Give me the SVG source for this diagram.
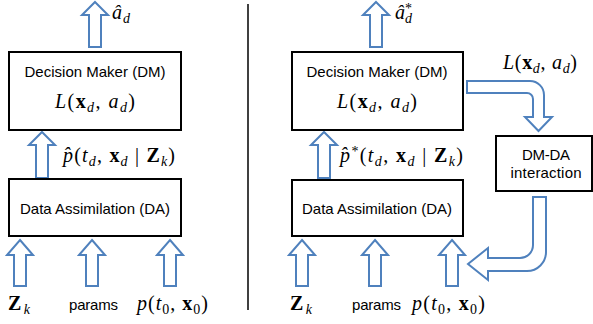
<svg xmlns="http://www.w3.org/2000/svg" width="593" height="324" viewBox="0 0 593 324">
<style>
.box{fill:#fff;stroke:#000;stroke-width:2}
.arr{fill:#fff;stroke:#4F81BD;stroke-width:2;stroke-linejoin:miter}
.t{font-family:"Liberation Sans",Arial,sans-serif;font-size:15px;fill:#000}
.m{font-family:"Liberation Serif","Times New Roman",serif;font-size:20px;fill:#000}
.i{font-style:italic}
.b{font-weight:bold}
.s{font-size:14px}
</style>
<rect width="593" height="324" fill="#fff"/>
<g id="divider"><line x1="248" y1="4" x2="248" y2="310" stroke="#404040" stroke-width="2"/></g>

<g id="connectors">
<path class="arr" d="M95,2 L108,15 L101,15 L101,47 L89,47 L89,15 L82,15 Z"/>
<path class="arr" d="M42,132 L55,145 L48,145 L48,178 L36,178 L36,145 L29,145 Z"/>
<path class="arr" d="M20,240 L33,255 L26,255 L26,286 L14,286 L14,255 L7,255 Z"/>
<path class="arr" d="M92,240 L105,255 L98,255 L98,286 L86,286 L86,255 L79,255 Z"/>
<path class="arr" d="M170,240 L183,255 L176,255 L176,286 L164,286 L164,255 L157,255 Z"/>
<path class="arr" d="M376,2 L389,15 L382,15 L382,47 L370,47 L370,15 L363,15 Z"/>
<path class="arr" d="M324,132 L337,145 L330,145 L330,178 L318,178 L318,145 L311,145 Z"/>
<path class="arr" d="M302,240 L315,255 L308,255 L308,286 L296,286 L296,255 L289,255 Z"/>
<path class="arr" d="M375,240 L388,255 L381,255 L381,286 L369,286 L369,255 L362,255 Z"/>
<path class="arr" d="M452,240 L465,255 L458,255 L458,286 L446,286 L446,255 L439,255 Z"/>
<path id="dm-to-int" class="arr" d="M467,81 L530,81 A14,14 0 0 1 544,95 L544,117 L552,117 L538.5,131 L525,117 L533,117 L533,99 A6,6 0 0 0 527,93 L467,93 Z"/>
<path id="int-to-da" class="arr" d="M533,197 L546,197 L546,252 A19,19 0 0 1 527,271 L488,271 L488,280 L468,264 L488,248 L488,258 L520,258 A13,13 0 0 0 533,245 Z"/>
</g>

<g id="left-dm">
<rect class="box" x="9" y="52" width="172" height="78"/>
<text class="t" x="95" y="77" text-anchor="middle" textLength="141">Decision Maker (DM)</text>
<text class="m" x="95" y="108" text-anchor="middle" textLength="80"><tspan class="i">L</tspan>(<tspan class="b">x</tspan><tspan class="s i" dy="4">d</tspan><tspan dy="-4">, </tspan><tspan class="i">a</tspan><tspan class="s i" dy="4">d</tspan><tspan dy="-4">)</tspan></text>
</g>
<g id="left-da">
<rect class="box" x="9" y="179" width="172" height="57"/>
<text class="t" x="95" y="214" text-anchor="middle" textLength="150">Data Assimilation (DA)</text>
</g>

<g id="right-dm">
<rect class="box" x="292" y="52" width="171" height="78"/>
<text class="t" x="377" y="77" text-anchor="middle" textLength="141">Decision Maker (DM)</text>
<text class="m" x="377" y="108" text-anchor="middle" textLength="80"><tspan class="i">L</tspan>(<tspan class="b">x</tspan><tspan class="s i" dy="4">d</tspan><tspan dy="-4">, </tspan><tspan class="i">a</tspan><tspan class="s i" dy="4">d</tspan><tspan dy="-4">)</tspan></text>
</g>
<g id="right-da">
<rect class="box" x="292" y="180" width="171" height="56"/>
<text class="t" x="377" y="214" text-anchor="middle" textLength="150">Data Assimilation (DA)</text>
</g>
<g id="dm-da-interaction">
<rect class="box" x="496" y="136" width="96" height="55"/>
<text class="t" x="546" y="160" text-anchor="middle" textLength="48">DM-DA</text>
<text class="t" x="546" y="178" text-anchor="middle" textLength="71">interaction</text>
</g>

<g id="labels">
<text class="m" x="112" y="19" textLength="18"><tspan class="i">â</tspan><tspan class="s i" dy="4">d</tspan></text>
<text class="m" x="63" y="162" textLength="112"><tspan class="i">p̂</tspan>(<tspan class="i">t</tspan><tspan class="s i" dy="4">d</tspan><tspan dy="-4">, </tspan><tspan class="b">x</tspan><tspan class="s i" dy="4">d</tspan><tspan dy="-4"> | </tspan><tspan class="b">Z</tspan><tspan class="s i" dy="4">k</tspan><tspan dy="-4">)</tspan></text>
<text class="m" x="8" y="310" textLength="22"><tspan class="b">Z</tspan><tspan class="s i" dy="4">k</tspan></text>
<text class="t" x="69" y="310" textLength="49">params</text>
<text class="m" x="137" y="310" textLength="71"><tspan class="i">p</tspan>(<tspan class="i">t</tspan><tspan class="s" dy="4">0</tspan><tspan dy="-4">, </tspan><tspan class="b">x</tspan><tspan class="s" dy="4">0</tspan><tspan dy="-4">)</tspan></text>

<text class="m" x="395" y="19"><tspan class="i">â</tspan><tspan class="s" dy="-6">*</tspan><tspan class="s i" dx="-7" dy="10">d</tspan></text>
<text class="m" x="340" y="162" textLength="123"><tspan class="i">p̂</tspan><tspan class="s" dy="-6">*</tspan><tspan dy="6">(</tspan><tspan class="i">t</tspan><tspan class="s i" dy="4">d</tspan><tspan dy="-4">, </tspan><tspan class="b">x</tspan><tspan class="s i" dy="4">d</tspan><tspan dy="-4"> | </tspan><tspan class="b">Z</tspan><tspan class="s i" dy="4">k</tspan><tspan dy="-4">)</tspan></text>
<text class="m" x="503" y="69" textLength="74"><tspan class="i">L</tspan>(<tspan class="b">x</tspan><tspan class="s i" dy="4">d</tspan><tspan dy="-4">, </tspan><tspan class="i">a</tspan><tspan class="s i" dy="4">d</tspan><tspan dy="-4">)</tspan></text>
<text class="m" x="290" y="310" textLength="22"><tspan class="b">Z</tspan><tspan class="s i" dy="4">k</tspan></text>
<text class="t" x="352" y="310" textLength="49">params</text>
<text class="m" x="412" y="310" textLength="73"><tspan class="i">p</tspan>(<tspan class="i">t</tspan><tspan class="s" dy="4">0</tspan><tspan dy="-4">, </tspan><tspan class="b">x</tspan><tspan class="s" dy="4">0</tspan><tspan dy="-4">)</tspan></text>
</g>
</svg>
